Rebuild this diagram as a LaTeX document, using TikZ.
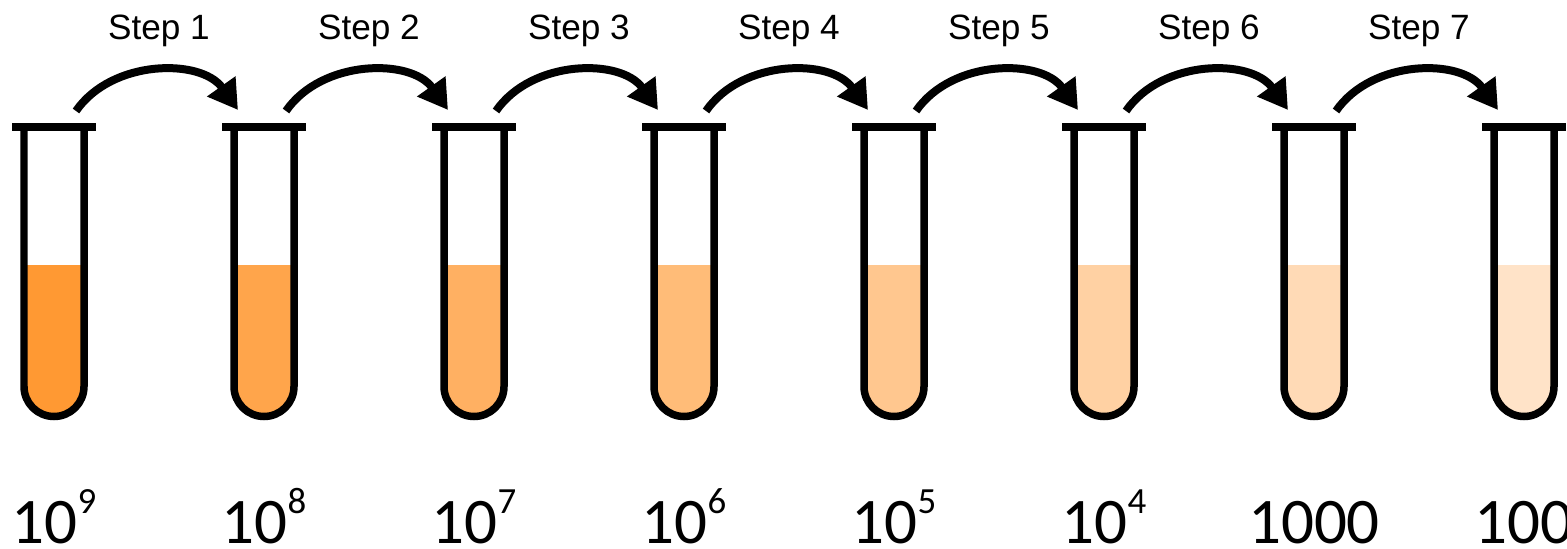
\documentclass[tikz,border=0pt]{standalone}
\usepackage{fontspec}
\usepackage{tikz, xcolor}
\usetikzlibrary{arrows.meta}

\setmainfont{Liberation Sans}
\newfontfamily\numfont{Carlito}
\definecolor{broth}{HTML}{FF9933}
\newcommand{\tenpow}[1]{10\raisebox{.6cm}{\fontsize{21}{21}\selectfont #1}}

\tikzset{
  glass/.style={line width=.15cm},
  rim/.style={line width=.16cm},
  transfer/.style={line width=.16cm, -{Triangle[length=.58cm, width=.66cm]}},
  steplabel/.style={font=\fontsize{20}{24}\selectfont},
  conclabel/.style={font=\numfont\fontsize{37}{40}\selectfont, anchor=base}
}

\begin{document}
\begin{tikzpicture}
  \fill [white] (0, 0) rectangle (31.34, 10.96);
  \useasboundingbox (0, 0) rectangle (31.34, 10.96);

  % tubes, lighter each time
  \foreach \i/\lbl/\pct in {0/\tenpow{9}/100, 1/\tenpow{8}/88, 2/\tenpow{7}/77, 3/\tenpow{6}/66, 4/\tenpow{5}/55, 5/\tenpow{4}/45, 6/1000/36, 7/100/27}
  {
    \pgfmathsetmacro{\x}{1.08 + 4.2*\i}
    \fill [broth!\pct] (\x-.6, 5.66) -- (\x-.6, 3.23) arc (180:360:.6) -- (\x+.6, 5.66) -- cycle;
    \draw [glass] (\x-.6, 8.42) -- (\x-.6, 3.23) arc (180:360:.6) -- (\x+.6, 8.42);
    \draw [rim] (\x-.84, 8.42) to (\x+.84, 8.42);
    \coordinate (in-\i) at (\x-.52, 8.76);
    \coordinate (out-\i) at (\x+.44, 8.74);
    \node [conclabel] (conc-\i) at (\x, .1) {\lbl};
  }

  \foreach \i in {0, ..., 6}
  {
    \pgfmathtruncatemacro{\j}{\i + 1}
    \pgfmathsetmacro{\x}{3.18 + 4.2*\i}
    \node [steplabel] (step-\j) at (\x, 10.34) {Step \j};
    \draw [transfer] (out-\i) to [bend left=55] (in-\j);
  }

\end{tikzpicture}
\end{document}
